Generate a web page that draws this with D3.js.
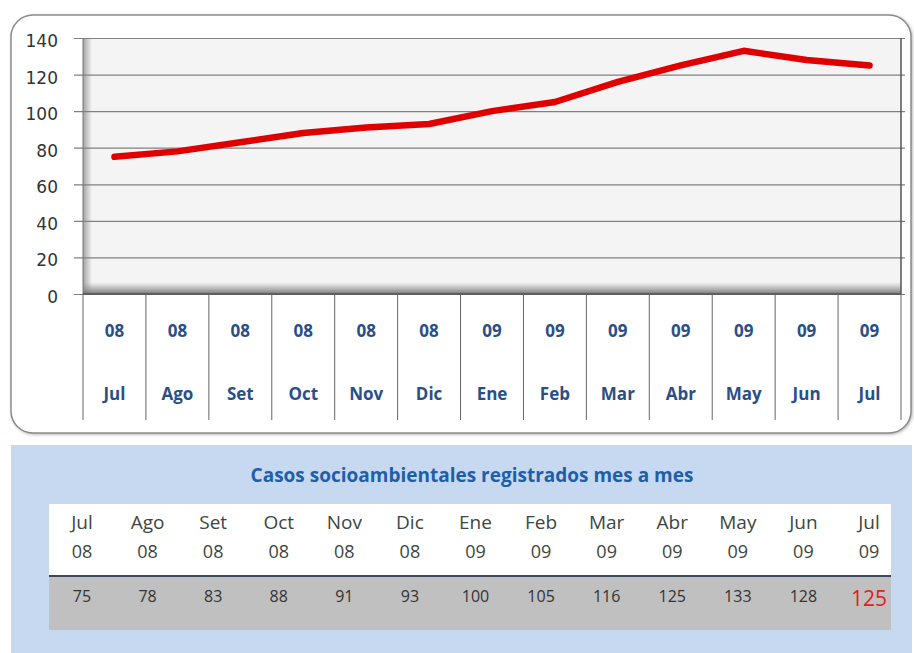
<!DOCTYPE html>
<html>
<head>
<meta charset="utf-8">
<script src="https://cdn.jsdelivr.net/npm/d3@7"></script>
<style>
  html, body { margin: 0; padding: 0; background: #fff; }
  svg { display: block; }
</style>
</head>
<body>
<script>
// data
const months = ["Jul", "Ago", "Set", "Oct", "Nov", "Dic", "Ene", "Feb", "Mar", "Abr", "May", "Jun", "Jul"];
const years = ["08", "08", "08", "08", "08", "08", "09", "09", "09", "09", "09", "09", "09"];
const cases = [75, 78, 83, 88, 91, 93, 100, 105, 116, 125, 133, 128, 125];
const yTicks = [0, 20, 40, 60, 80, 100, 120, 140];
const tableTitle = "Casos socioambientales registrados mes a mes";

const width = 914, height = 653;
const keys = months.map((m, i) => i);

const svg = d3.select('body').append('svg')
    .attr('width', width)
    .attr('height', height);

const defs = svg.append('defs');
const shadowL = defs.append('linearGradient').attr('id', 'shadowL').attr('x1', 0).attr('x2', 1).attr('y1', 0).attr('y2', 0);
shadowL.append('stop').attr('offset', '0%').attr('stop-color', '#999').attr('stop-opacity', 0.9);
shadowL.append('stop').attr('offset', '100%').attr('stop-color', '#999').attr('stop-opacity', 0);
const shadowB = defs.append('linearGradient').attr('id', 'shadowB').attr('x1', 0).attr('x2', 0).attr('y1', 1).attr('y2', 0);
shadowB.append('stop').attr('offset', '0%').attr('stop-color', '#777').attr('stop-opacity', 1);
shadowB.append('stop').attr('offset', '100%').attr('stop-color', '#999').attr('stop-opacity', 0);
const frameShadow = defs.append('filter').attr('id', 'frameShadow').attr('x', '-5%').attr('y', '-5%').attr('width', '110%').attr('height', '110%');
frameShadow.append('feDropShadow').attr('dx', 1).attr('dy', 1).attr('stdDeviation', 1.5).attr('flood-color', '#888').attr('flood-opacity', 0.6);

// chart frame
svg.append('rect')
    .attr('x', 11).attr('y', 15)
    .attr('width', 900).attr('height', 418)
    .attr('rx', 22).attr('ry', 22)
    .attr('fill', '#fff')
    .attr('stroke', '#8c8c8c')
    .attr('stroke-width', 1.5)
    .attr('filter', 'url(#frameShadow)');

const plot = { left: 83, right: 901, top: 38, bottom: 294 };

const x = d3.scaleBand()
    .domain(keys)
    .range([plot.left, plot.right]);

const y = d3.scaleLinear()
    .domain([0, 140])
    .range([plot.bottom, plot.top]);

// plot wall
svg.append('rect')
    .attr('x', plot.left).attr('y', plot.top)
    .attr('width', plot.right - plot.left).attr('height', plot.bottom - plot.top)
    .attr('fill', '#f4f4f4');
svg.append('rect')
    .attr('x', plot.left).attr('y', plot.top)
    .attr('width', 9).attr('height', plot.bottom - plot.top)
    .attr('fill', 'url(#shadowL)');
svg.append('rect')
    .attr('x', plot.left).attr('y', plot.bottom - 12)
    .attr('width', plot.right - plot.left).attr('height', 12)
    .attr('fill', 'url(#shadowB)');

// y axis with gridlines
const yAxis = svg.append('g')
    .attr('class', 'y-axis')
    .attr('transform', `translate(${plot.left},0)`)
    .call(d3.axisLeft(y)
        .tickValues(yTicks)
        .tickSize(-(plot.right - plot.left + 4))
        .tickPadding(25)
        .tickFormat(d3.format('d')));
yAxis.select('.domain').remove();
yAxis.selectAll('.tick line')
    .attr('x1', -9)
    .attr('stroke', '#808080')
    .attr('stroke-width', 1.2);
yAxis.selectAll('.tick text')
    .attr('dy', '0.5em')
    .attr('fill', '#333')
    .style('font-family', '"DejaVu Sans", sans-serif')
    .style('font-size', '17px');

// plot borders
svg.append('line')
    .attr('x1', plot.right).attr('x2', plot.right)
    .attr('y1', plot.top).attr('y2', plot.bottom)
    .attr('stroke', '#555').attr('stroke-width', 1.5);
svg.append('line')
    .attr('x1', plot.left).attr('x2', plot.left)
    .attr('y1', plot.top).attr('y2', plot.bottom)
    .attr('stroke', '#777').attr('stroke-width', 1);
svg.append('line')
    .attr('x1', plot.left).attr('x2', plot.right)
    .attr('y1', plot.bottom).attr('y2', plot.bottom)
    .attr('stroke', '#555').attr('stroke-width', 1.5);

// category axis: separators and two-level labels
const xAxis = svg.append('g').attr('class', 'x-axis');
xAxis.selectAll('line')
    .data(keys.concat([keys.length]))
    .enter().append('line')
    .attr('x1', d => d < keys.length ? x(d) : plot.right)
    .attr('x2', d => d < keys.length ? x(d) : plot.right)
    .attr('y1', plot.bottom)
    .attr('y2', 420)
    .attr('stroke', '#666')
    .attr('stroke-width', 1);
xAxis.selectAll('.year')
    .data(keys)
    .enter().append('text')
    .attr('class', 'year')
    .attr('x', d => x(d) + x.bandwidth() / 2)
    .attr('y', 337)
    .attr('text-anchor', 'middle')
    .attr('fill', '#2a4f86')
    .style('font-family', '"Open Sans", sans-serif')
    .style('font-size', '17px')
    .style('font-weight', 'bold')
    .text(d => years[d]);
xAxis.selectAll('.month')
    .data(keys)
    .enter().append('text')
    .attr('class', 'month')
    .attr('x', d => x(d) + x.bandwidth() / 2)
    .attr('y', 400)
    .attr('text-anchor', 'middle')
    .attr('fill', '#2a4f86')
    .style('font-family', '"Open Sans", sans-serif')
    .style('font-size', '17px')
    .style('font-weight', 'bold')
    .text(d => months[d]);

// series line
const line = d3.line()
    .x(d => x(d) + x.bandwidth() / 2)
    .y(d => y(cases[d]));
svg.append('path')
    .datum(keys)
    .attr('fill', 'none')
    .attr('stroke', '#e00000')
    .attr('stroke-width', 6.5)
    .attr('stroke-linecap', 'round')
    .attr('stroke-linejoin', 'round')
    .attr('d', line);

// data table panel
svg.append('rect')
    .attr('x', 11).attr('y', 445)
    .attr('width', 901).attr('height', 208)
    .attr('fill', '#c6d9f1');

svg.append('text')
    .attr('x', 472).attr('y', 482)
    .attr('text-anchor', 'middle')
    .attr('fill', '#1f5ea8')
    .style('font-family', '"Open Sans", sans-serif')
    .style('font-size', '19px')
    .style('font-weight', 'bold')
    .text(tableTitle);

const tx = d3.scalePoint()
    .domain(keys)
    .range([82, 869]);

svg.append('rect')
    .attr('x', 49).attr('y', 504)
    .attr('width', 842).attr('height', 71)
    .attr('fill', '#fff');
svg.append('rect')
    .attr('x', 49).attr('y', 577)
    .attr('width', 842).attr('height', 53)
    .attr('fill', '#c0c0c0');
svg.append('line')
    .attr('x1', 49).attr('x2', 891)
    .attr('y1', 576).attr('y2', 576)
    .attr('stroke', '#3a4a5a').attr('stroke-width', 2);

const table = svg.append('g').attr('class', 'table')
    .style('font-family', '"Open Sans", sans-serif');
table.selectAll('.tmonth')
    .data(keys)
    .enter().append('text')
    .attr('class', 'tmonth')
    .attr('x', d => tx(d))
    .attr('y', 529)
    .attr('text-anchor', 'middle')
    .attr('fill', '#3d4640')
    .style('font-size', '19px')
    .text(d => months[d]);
table.selectAll('.tyear')
    .data(keys)
    .enter().append('text')
    .attr('class', 'tyear')
    .attr('x', d => tx(d))
    .attr('y', 558)
    .attr('text-anchor', 'middle')
    .attr('fill', '#3d4640')
    .style('font-size', '18px')
    .text(d => years[d]);
table.selectAll('.tvalue')
    .data(keys)
    .enter().append('text')
    .attr('class', 'tvalue')
    .attr('x', d => tx(d))
    .attr('y', d => d === keys.length - 1 ? 606 : 602)
    .attr('text-anchor', 'middle')
    .attr('fill', d => d === keys.length - 1 ? '#e02020' : '#333')
    .style('font-size', d => d === keys.length - 1 ? '21px' : '16px')
    .text(d => cases[d]);
</script>
</body>
</html>
